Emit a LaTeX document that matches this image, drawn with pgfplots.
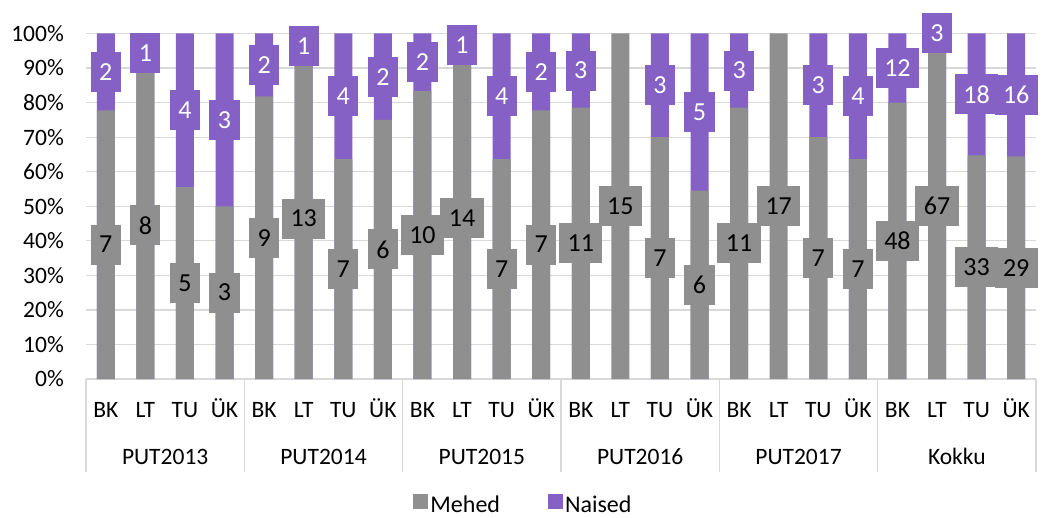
\documentclass[border=0pt]{standalone}
\usepackage{fontspec}
\setmainfont{Carlito}
\usepackage{pgfplots}
\usepackage{pgfplotstable}
\pgfplotsset{compat=1.18}
\definecolor{mgray}{HTML}{8F8F8F}
\definecolor{mpurple}{HTML}{8561C5}
\definecolor{gridgray}{HTML}{D9D9D9}

% men: share (%), label position (%), count
\pgfplotstableread{
x g mg lab
0 77.78 38.89 7
1 88.89 44.44 8
2 55.56 27.78 5
3 50.00 25.00 3
4 81.82 40.91 9
5 92.86 46.43 13
6 63.64 31.82 7
7 75.00 37.50 6
8 83.33 41.67 10
9 93.33 46.67 14
10 63.64 31.82 7
11 77.78 38.89 7
12 78.57 39.29 11
13 100.00 50.00 15
14 70.00 35.00 7
15 54.55 27.27 6
16 78.57 39.29 11
17 100.00 50.00 17
18 70.00 35.00 7
19 63.64 31.82 7
20 80.00 40.00 48
21 100.00 50.00 67
22 64.71 32.35 33
23 64.44 32.22 29
}\menT

% women: label position (%), count (bars fill up to 100 %)
\pgfplotstableread{
x p mp lab
0 100 88.89 2
1 100 94.44 1
2 100 77.78 4
3 100 75.00 3
4 100 90.91 2
5 100 96.43 1
6 100 81.82 4
7 100 87.50 2
8 100 91.67 2
9 100 96.67 1
10 100 81.82 4
11 100 88.89 2
12 100 89.29 3
14 100 85.00 3
15 100 77.27 5
16 100 89.29 3
18 100 85.00 3
19 100 81.82 4
20 100 90.00 12
21 100 100.00 3
22 100 82.35 18
23 100 82.22 16
}\womenT

\begin{document}
\begin{tikzpicture}
\useasboundingbox (0,0) rectangle (1043pt,517pt);
\begin{axis}[
  at={(86pt,138pt)}, anchor=south west,
  scale only axis, width=950pt, height=345.5pt,
  xmin=-0.5, xmax=23.5, ymin=0, ymax=100,
  clip=false,
  axis line style={draw=none},
  ymajorgrids, grid style={gridgray, line width=1.3pt},
  ytick={0,10,...,100},
  yticklabel={\pgfmathprintnumber{\tick}\%},
  /pgf/number format/assume math mode=true,
  yticklabel style={font=\fontsize{23.5}{27}\selectfont, anchor=east, inner sep=0pt, xshift=-22pt},
  xtick={0,...,23},
  xticklabels={BK,LT,TU,ÜK,BK,LT,TU,ÜK,BK,LT,TU,ÜK,BK,LT,TU,ÜK,BK,LT,TU,ÜK,BK,LT,TU,ÜK},
  xticklabel style={font=\fontsize{23.5}{27}\selectfont, anchor=base, inner sep=0pt, yshift=-38pt},
  minor xtick={-0.5,3.5,...,23.5},
  major tick length=0pt,
  minor tick length=93pt,
  tick align=outside,
  tick pos=left,
  minor x tick style={draw=gridgray, line width=1.3pt},
  legend style={at={(0.4605,-0.363)}, anchor=center, draw=none, fill=none,
    legend columns=2, font=\fontsize{24}{28}\selectfont,
    /tikz/every even column/.append style={column sep=46pt}},
  legend image code/.code={\fill[#1] (0pt,-5pt) rectangle (15pt,10pt);},
]
\addlegendimage{fill=mgray, draw=none}
\addlegendentry{Mehed}
\addlegendimage{fill=mpurple, draw=none}
\addlegendentry{Naised}

\addplot[ybar, bar width=18pt, bar shift=0pt, fill=mpurple, draw=none, forget plot] table[x=x, y=p] {\womenT};
\addplot[ybar, bar width=18pt, bar shift=0pt, fill=mgray, draw=none, forget plot] table[x=x, y=g] {\menT};

\addplot[only marks, mark=*, mark size=0pt, mark options={draw=none, fill=none}, forget plot,
  point meta=explicit symbolic,
  nodes near coords, nodes near coords align=center,
  every node near coord/.append style={anchor=center, fill=mgray, text=black,
    font=\fontsize{26}{30}\selectfont, inner xsep=8.5pt, inner ysep=0pt, minimum height=40pt}]
  table[x=x, y=mg, meta=lab] {\menT};
\addplot[only marks, mark=*, mark size=0pt, mark options={draw=none, fill=none}, forget plot,
  point meta=explicit symbolic,
  nodes near coords, nodes near coords align=center,
  every node near coord/.append style={anchor=center, fill=mpurple, text=white,
    font=\fontsize{26}{30}\selectfont, inner xsep=8.5pt, inner ysep=0pt, minimum height=40pt}]
  table[x=x, y=mp, meta=lab] {\womenT};

\node[anchor=base, inner sep=0pt, font=\fontsize{23.5}{27}\selectfont, yshift=-85pt] at (axis cs:1.5,0) {PUT2013};
\node[anchor=base, inner sep=0pt, font=\fontsize{23.5}{27}\selectfont, yshift=-85pt] at (axis cs:5.5,0) {PUT2014};
\node[anchor=base, inner sep=0pt, font=\fontsize{23.5}{27}\selectfont, yshift=-85pt] at (axis cs:9.5,0) {PUT2015};
\node[anchor=base, inner sep=0pt, font=\fontsize{23.5}{27}\selectfont, yshift=-85pt] at (axis cs:13.5,0) {PUT2016};
\node[anchor=base, inner sep=0pt, font=\fontsize{23.5}{27}\selectfont, yshift=-85pt] at (axis cs:17.5,0) {PUT2017};
\node[anchor=base, inner sep=0pt, font=\fontsize{23.5}{27}\selectfont, yshift=-85pt] at (axis cs:21.5,0) {Kokku};
\end{axis}
\end{tikzpicture}
\end{document}
